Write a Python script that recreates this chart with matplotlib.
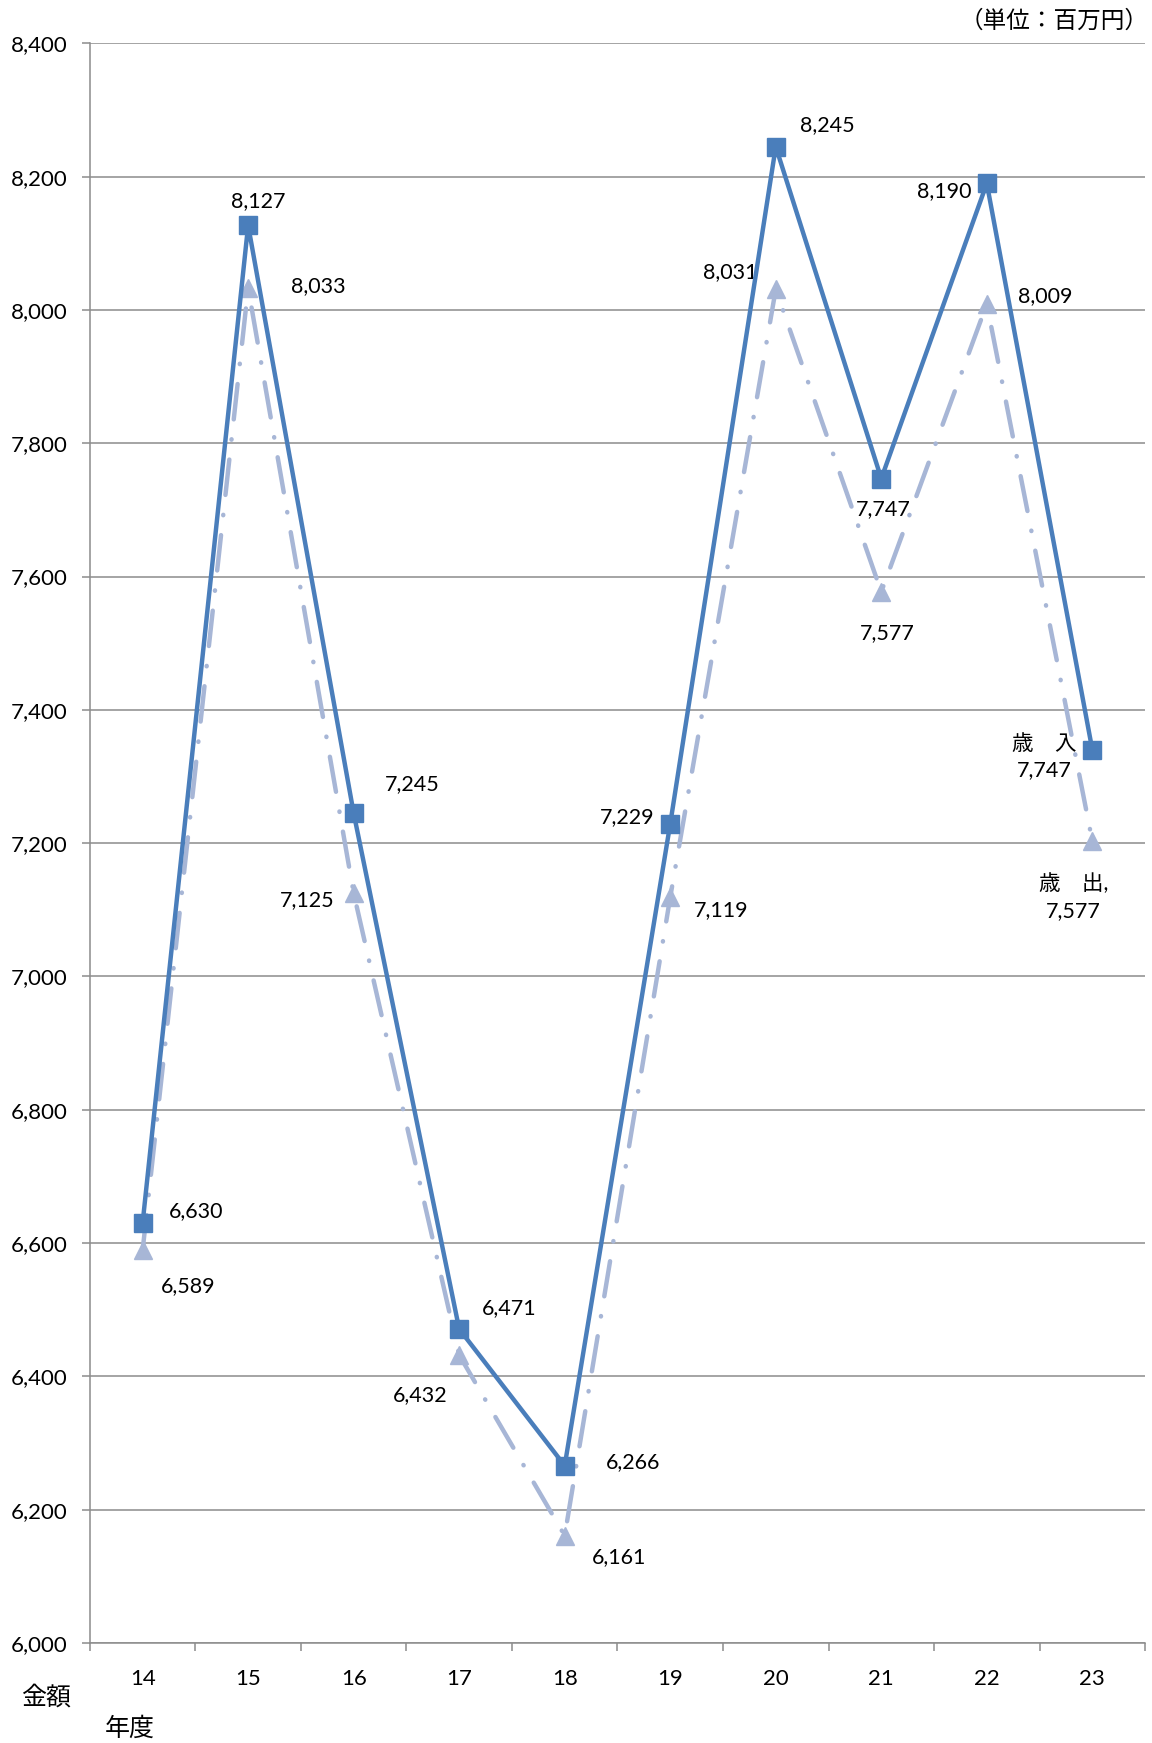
import numpy as np
import matplotlib.pyplot as plt
from matplotlib.ticker import FuncFormatter, FixedLocator

plt.rcParams['font.family'] = ['Lato', 'Noto Sans CJK JP', 'DejaVu Sans']

years = ['14', '15', '16', '17', '18', '19', '20', '21', '22', '23']
revenue = [6630, 8127, 7245, 6471, 6266, 7229, 8245, 7747, 8190, 7340]
expense = [6589, 8033, 7125, 6432, 6161, 7119, 8031, 7577, 8009, 7203]
rev_labels = ['6,630', '8,127', '7,245', '6,471', '6,266', '7,229', '8,245',
              '7,747', '8,190', '歳　入\n7,747']
exp_labels = ['6,589', '8,033', '7,125', '6,432', '6,161', '7,119', '8,031',
              '7,577', '8,009', '歳　出,\n7,577']

# label offsets in pixels (dx, dy), dy positive = up
rev_off = [(54, 12), (10, 24), (59, 29), (50, 21), (68, 4), (-43, 7),
           (52, 22), (2, -30), (-43, -8), (-48, -7)]
exp_off = [(46, -36), (70, 2), (-46, -7), (-39, -40), (54, -21), (51, -13),
           (-46, 17), (6, -41), (58, 8), (-19, -56)]

fig = plt.figure(figsize=(11.52, 17.43), dpi=100)
ax = fig.add_axes([0.078, 0.0574, 0.916, 0.9177])

x = np.arange(len(years))
c_rev = '#4A7EBB'
c_exp = '#A7B6D6'

ax.plot(x, expense, color=c_exp, linewidth=3.2, linestyle=(0, (8, 4.5, 0.1, 4.5)),
        dash_capstyle='round', marker='^', markersize=13,
        markeredgecolor=c_exp, markerfacecolor=c_exp, zorder=3)
ax.plot(x, revenue, color=c_rev, linewidth=3.2, marker='s', markersize=13,
        markeredgecolor=c_rev, markerfacecolor=c_rev, zorder=4)

for i in range(len(years)):
    ax.annotate(rev_labels[i], (x[i], revenue[i]), xytext=rev_off[i],
                textcoords='offset pixels', ha='center', va='center',
                fontsize=15.5, linespacing=1.4)
    ax.annotate(exp_labels[i], (x[i], expense[i]), xytext=exp_off[i],
                textcoords='offset pixels', ha='center', va='center',
                fontsize=15.5, linespacing=1.4)

ax.set_xlim(-0.5, 9.5)
ax.set_ylim(6000, 8400)
ax.set_yticks(np.arange(6000, 8401, 200))
ax.yaxis.set_major_formatter(FuncFormatter(lambda v, p: f'{int(v):,}'))
ax.set_xticks(x)
ax.set_xticklabels(years)
ax.xaxis.set_minor_locator(FixedLocator(np.arange(-0.5, 10, 1)))

ax.grid(axis='y', color='#8C8C8C', linewidth=1.1)
ax.set_axisbelow(True)
for s in ['top', 'right']:
    ax.spines[s].set_visible(False)
for s in ['left', 'bottom']:
    ax.spines[s].set_color('#8C8C8C')
    ax.spines[s].set_linewidth(1.1)

ax.tick_params(axis='x', which='major', length=0, pad=19, labelsize=16)
ax.tick_params(axis='x', which='minor', length=6, color='#8C8C8C', width=1.1,
               direction='out')
ax.tick_params(axis='y', length=6, color='#8C8C8C', width=1.1, pad=10,
               labelsize=16)

fig.text(0.997, 0.988, '（単位：百万円）', ha='right', va='center', fontsize=17,
         family=['Noto Sans CJK JP', 'DejaVu Sans'])
fig.text(0.040, 0.026, '金額', ha='center', va='center', fontsize=18,
         family=['Noto Sans CJK JP', 'DejaVu Sans'])
fig.text(0.113, 0.008, '年度', ha='center', va='center', fontsize=18,
         family=['Noto Sans CJK JP', 'DejaVu Sans'])

fig.savefig('out.png', dpi=100)
